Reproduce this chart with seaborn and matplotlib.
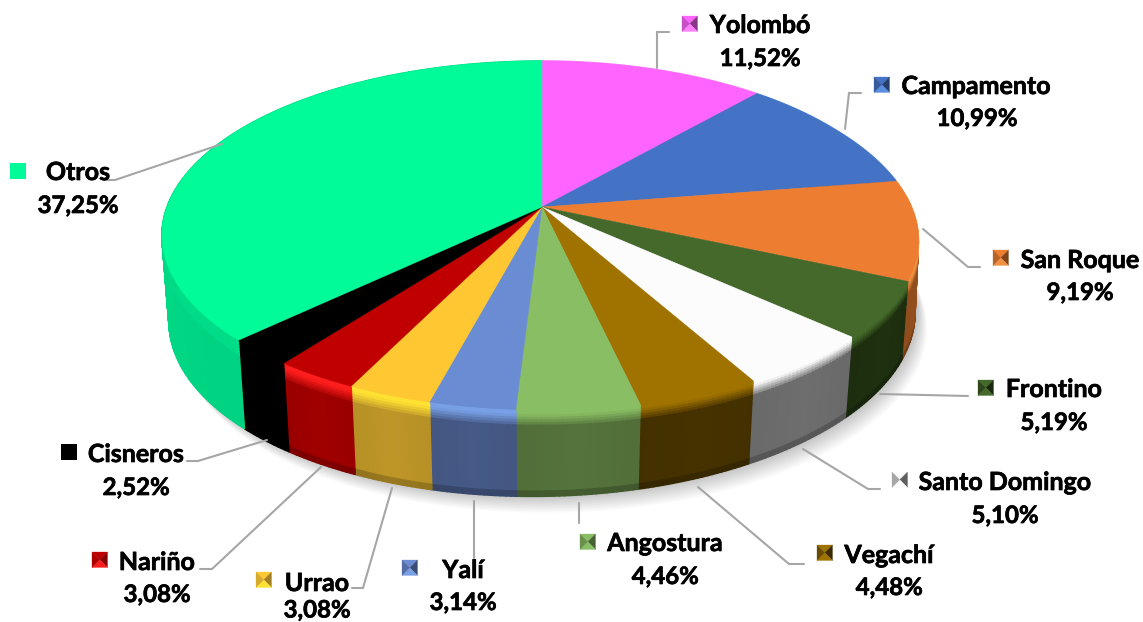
import numpy as np
import matplotlib
matplotlib.use("Agg")
import matplotlib.pyplot as plt
import matplotlib.patheffects as pe
from matplotlib.collections import PolyCollection
from matplotlib.patches import Polygon
import seaborn as sns

# ---- data ----
names = ["Yolombó", "Campamento", "San Roque", "Frontino", "Santo Domingo", "Vegachí",
         "Angostura", "Yalí", "Urrao", "Nariño", "Cisneros", "Otros"]
shares = [11.52, 10.99, 9.19, 5.19, 5.10, 4.48, 4.46, 3.14, 3.08, 3.08, 2.52, 37.25]
share_labels = ["11,52%", "10,99%", "9,19%", "5,19%", "5,10%", "4,48%",
                "4,46%", "3,14%", "3,08%", "3,08%", "2,52%", "37,25%"]

# ---- colours ----
top_hex = ["#FF64FF", "#4472C4", "#ED7D31", "#44692A", "#FCFCFC", "#A07300",
           "#8ABE64", "#698CD2", "#FFC832", "#C00000", "#000000", "#00FB98"]
wall_hex = ["#A040A0", "#2C4A80", "#96501E", "#1E300F", "#6E6E6E", "#463200",
            "#55733C", "#465A87", "#BE9628", "#A00000", "#000000", "#00DC87"]
glow_hex = ["#FF80FF", "#5A8CE0", "#F09040", "#44692A", "#FCFCFC", "#A07300",
            "#8ABE64", "#78A0E6", "#FFE132", "#FF1E1E", "#000000", "#00DC87"]

# ---- layout (pixels of the reference) ----
W, H = 1143, 622
CX, TOP_Y, BOT_Y = 542, 207, 288
KP = 0.163
name_xy = [(760, 25.5), (976, 86.5), (1080, 260.5), (1054, 389.5), (1005, 482.5), (889, 555.5),
           (665, 543.5), (463, 570.5), (317, 583.5), (157, 562.5), (136, 454.5), (78, 172.5)]
pct_xy = [(760, 58.5), (977, 118.5), (1080, 292.5), (1054, 422.5), (1005, 515.5), (889, 587.5),
          (665, 576.5), (463, 602.5), (317, 610), (157, 594.5), (136, 487.5), (78, 205.5)]
marker_xy = [(682, 16), (874, 77), (993, 250), (978, 380), (892, 472), (817, 545),
             (580, 534), (402, 560), (256, 572), (92, 552), (61, 444), (10, 163)]
leaders = [
    [(657, 68), (657, 32), (669, 32)],
    [(845, 129), (849, 93), (861, 93)],
    [(923, 229), (968, 267), (980, 267)],
    [(880, 394), (968, 396)],
    [(803, 449), (868, 489), (880, 489)],
    [(698, 487), (789, 564), (804, 564)],
    [(579, 503), (579, 523)],
    [(474, 501), (474, 558)],
    [(392, 488), (363, 588), (352, 588)],
    [(321, 467), (212, 569), (200, 569)],
    [(267, 440), (198, 461), (187, 461)],
    [(222, 144), (115, 180), (103, 180)],
]

sns.set_theme(style="white")
plt.rcParams["font.family"] = ["Lato", "DejaVu Sans"]
tops = np.array(sns.color_palette(top_hex))
walls = np.array(sns.color_palette(wall_hex))
glows = np.array(sns.color_palette(glow_hex))

fig = plt.figure(figsize=(W / 100, H / 100), dpi=100, facecolor="white")
ax = fig.add_axes([0, 0, 1, 1])
ax.set_xlim(0, W)
ax.set_ylim(H, 0)
ax.axis("off")


def top_pt(t):
    x, y = np.sin(t), np.cos(t)
    d = 1 + KP * y
    squeeze = np.where(x > 0, 1 - 0.03 * np.clip(y + 0.5, 0, 1), 1.0)
    return CX + 375 * x * squeeze / d, TOP_Y - 169.8 * y / d


def bot_pt(t):
    x, y = np.sin(t), np.cos(t)
    d = 1 + 0.16 * y
    px = 0.982 * 375 * x / d
    return CX + px, BOT_Y - 175 * y / d - 0.012 * px


edges = np.concatenate([[0], np.cumsum(shares)]) / sum(shares) * 2 * np.pi

# soft shadow under the front of the pie
full = np.linspace(0, 2 * np.pi, 361)
bx, by = bot_pt(full)
for i in range(12):
    ax.add_patch(Polygon(np.c_[bx + 2 + i * 0.9, by + 1.5 * i], closed=True,
                         fc="black", ec="none", alpha=0.018, zorder=1))

# side walls
rows = np.array([0, .03, .06, .09, .12, .15, .18, .22, .28, .6, .94, .97, 1.0])
for i in range(len(shares)):
    a0, a1 = edges[i], edges[i + 1]
    n = max(3, int((a1 - a0) / 0.012))
    ts = np.linspace(a0, a1, n + 1)
    xt, yt = top_pt(ts)
    xb, yb = bot_pt(ts)
    polys, cols = [], []
    for j in range(n):
        shade = 1 - 0.08 * abs((j + .5) / n - .5)
        for r in range(len(rows) - 1):
            f0, f1 = rows[r], rows[r + 1]
            p = [(xt[j] + (xb[j] - xt[j]) * f0, yt[j] + (yb[j] - yt[j]) * f0),
                 (xt[j + 1] + (xb[j + 1] - xt[j + 1]) * f0, yt[j + 1] + (yb[j + 1] - yt[j + 1]) * f0),
                 (xt[j + 1] + (xb[j + 1] - xt[j + 1]) * f1, yt[j + 1] + (yb[j + 1] - yt[j + 1]) * f1),
                 (xt[j] + (xb[j] - xt[j]) * f1, yt[j] + (yb[j] - yt[j]) * f1)]
            fm = (f0 + f1) / 2
            if fm < 0.06:
                c = glows[i]
            elif fm < 0.2:
                u = (fm - 0.06) / 0.14
                c = glows[i] * (1 - u) + walls[i] * u
            else:
                c = walls[i] * shade
            if fm > 0.95 and names[i] != "Otros":
                c = c * 0.8
            polys.append(p)
            cols.append(np.clip(c, 0, 1))
    ax.add_collection(PolyCollection(polys, facecolors=cols, edgecolors=cols,
                                     linewidths=1.1, zorder=2))

# top faces
for i in range(len(shares)):
    ts = np.linspace(edges[i], edges[i + 1], 200)
    xt, yt = top_pt(ts)
    verts = np.c_[np.r_[CX, xt], np.r_[TOP_Y, yt]]
    ax.add_patch(Polygon(verts, closed=True, fc=tops[i], ec=tops[i], lw=0.3, zorder=3))

# leader lines
for pts in leaders:
    xs, ys = zip(*pts)
    ax.plot(xs, ys, color="#A6A6A6", lw=1.5, solid_joinstyle="miter", zorder=4)

# labels
heavier = [pe.withStroke(linewidth=0.5, foreground="black")]
for i in range(len(names)):
    ax.text(*name_xy[i], names[i], ha="center", va="center", fontsize=18,
            fontweight="bold", color="black", zorder=5, path_effects=heavier)
    ax.text(*pct_xy[i], share_labels[i], ha="center", va="center", fontsize=17.3,
            fontweight="bold", color="black", zorder=5, path_effects=heavier)
    # bevelled legend key
    x0, y0 = marker_xy[i]
    s = 15.5
    c = (x0 + s / 2, y0 + s / 2)
    if names[i] in ("Otros", "Cisneros"):
        ax.add_patch(Polygon([(x0, y0), (x0 + s, y0), (x0 + s, y0 + s), (x0, y0 + s)],
                             closed=True, fc=tops[i], ec="none", zorder=5))
        continue
    faces = [([(x0, y0), (x0 + s, y0), c], tops[i]),
             ([(x0 + s, y0), (x0 + s, y0 + s), c], walls[i] * 0.85),
             ([(x0 + s, y0 + s), (x0, y0 + s), c], glows[i]),
             ([(x0, y0 + s), (x0, y0), c], walls[i] * 0.6 + 0.4 * tops[i])]
    for verts, col in faces:
        ax.add_patch(Polygon(verts, closed=True, fc=col, ec=col, lw=0.2, zorder=5))

fig.savefig("out.png", dpi=100, facecolor="white")
